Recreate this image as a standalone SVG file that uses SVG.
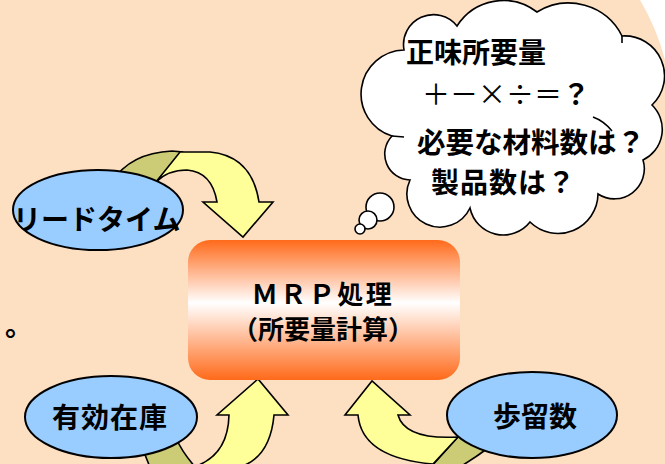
<svg xmlns="http://www.w3.org/2000/svg" width="665" height="464" viewBox="0 0 665 464">
<defs>
<linearGradient id="mrpGrad" x1="0" y1="0" x2="0" y2="1">
<stop offset="0" stop-color="#FF6A1A"/>
<stop offset="0.45" stop-color="#FFFFFF"/>
<stop offset="1" stop-color="#FF6A1A"/>
</linearGradient>
<style>
.lbl{font-family:"Noto Sans CJK JP","Noto Sans CJK SC",sans-serif;font-weight:bold;fill:#000}
.ell{fill:#99CCFF;stroke:#000;stroke-width:2}
.front{fill:#FFFF99;stroke:#000;stroke-width:1.6;stroke-linejoin:miter}
.back{fill:#CCCC77;stroke:#000;stroke-width:1.6}
.cloud{fill:#FFFFFF;stroke:#000;stroke-width:1.6}
.fold{fill:none;stroke:#000;stroke-width:1.6}
</style>
</defs>
<rect x="0" y="0" width="665" height="464" fill="#FDDFC2"/>
<path d="M 640 0 A 230 230 0 0 1 665 60 L 665 0 Z" fill="#FFFFFF"/>
<text class="lbl" x="5" y="336" font-size="28">。</text>

<g id="connectors">
<g id="arrow-leadtime">
<path class="back" d="M 112 182 Q 130 153 172 151 L 182 152 L 156 182 Q 145 188 140 200 Z"/>
<path class="front" d="M 180 152 L 210 152 Q 252 156 259 202 L 273 202 L 243 237 L 203 202 L 217 202 Q 212 172 187 170 Q 168 170 156 182 Z"/>
</g>
<g id="arrow-stock">
<path class="back" d="M 138 440 L 176 438 Q 182 452 196 468 L 150 468 Q 146 455 138 440 Z"/>
<path class="front" d="M 190 468 Q 228 458 229 415 L 217 415 L 258 379 L 288 415 L 274 415 Q 270 460 236 468 Z"/>
</g>
<g id="arrow-yield">
<path class="back" d="M 458 437 L 488 438 L 488 448 Q 475 458 458 468 L 430 468 Z"/>
<path class="front" d="M 358 415 L 345 415 L 372 381 L 410 415 L 398 415 Q 405 440 458 437 L 433 464 Q 362 458 358 415 Z"/>
</g>
</g>

<g id="node-leadtime">
<ellipse class="ell" cx="98" cy="210" rx="85" ry="40"/>
<text class="lbl" x="13" y="230" font-size="28">リードタイム</text>
</g>
<g id="node-stock">
<ellipse class="ell" cx="111" cy="417" rx="86" ry="41"/>
<text class="lbl" x="110" y="428" font-size="28" text-anchor="middle" letter-spacing="1">有効在庫</text>
</g>
<g id="node-yield">
<ellipse class="ell" cx="532" cy="415" rx="85" ry="43"/>
<text class="lbl" x="535" y="427" font-size="28" text-anchor="middle">歩留数</text>
</g>

<g id="node-mrp">
<rect x="188" y="240" width="272" height="140" rx="22" ry="22" fill="url(#mrpGrad)"/>
<text class="lbl" x="323" y="304" font-size="26" text-anchor="middle" letter-spacing="2.5">ＭＲＰ処理</text>
<text class="lbl" x="323" y="339" font-size="26" text-anchor="middle">（所要量計算）</text>
</g>

<g id="node-thought">
<path class="cloud" d="M 392 136 A 44 44 0 0 1 404 50 A 30 30 0 0 1 457 26 A 55 55 0 0 1 537 12 A 60 60 0 0 1 622 36 A 40 40 0 0 1 652 105 A 34 34 0 0 1 643 160 A 30 30 0 0 1 598 194 A 40 40 0 0 1 530 222 A 34 34 0 0 1 470 208 A 32 32 0 0 1 410 180 A 26 26 0 0 1 392 136 Z"/>
<path class="fold" d="M 622 36 L 622 43"/>
<path class="fold" d="M 593 117 Q 604 121 612 131"/>
<path class="fold" d="M 392 136 L 404 137"/>
<circle class="cloud" cx="380" cy="207" r="14"/>
<circle class="cloud" cx="368" cy="220" r="9"/>
<circle class="cloud" cx="360" cy="229" r="5"/>
<text class="lbl" x="406" y="63" font-size="28">正味所要量</text>
<text class="lbl" x="422" y="105" font-size="28"><tspan font-weight="normal">＋－×÷＝</tspan><tspan font-weight="bold">？</tspan></text>
<text class="lbl" x="417" y="153" font-size="28.5">必要な材料数は？</text>
<text class="lbl" x="431" y="193" font-size="28" letter-spacing="1">製品数は？</text>
</g>
</svg>
